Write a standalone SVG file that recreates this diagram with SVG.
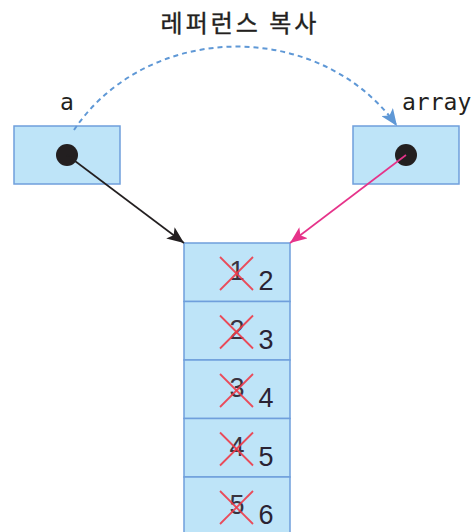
<svg xmlns="http://www.w3.org/2000/svg" width="471" height="532" viewBox="0 0 471 532">
<style>
.box{fill:#bee4f8;stroke:#6f9fdc;stroke-width:1.5}
.dot{fill:#231f20}
.lbl{font-family:"DejaVu Sans Mono","Liberation Mono",monospace;font-size:23px;fill:#231f20}
.num{font-family:"Liberation Sans",Arial,sans-serif;font-size:27px;fill:#2a2233;text-anchor:middle}
.old{font-family:"Liberation Sans",Arial,sans-serif;font-size:27px;fill:#3a3340;text-anchor:middle}
.x{stroke:#ee3a48;stroke-width:1.8;stroke-opacity:0.9}
.title{font-family:"Noto Sans CJK KR","Noto Sans",sans-serif;font-size:24px;fill:#231f20;text-anchor:middle;letter-spacing:3px;stroke:#231f20;stroke-width:0.4}
</style>
<defs>
<marker id="ahBlack" markerUnits="userSpaceOnUse" markerWidth="18" markerHeight="14" refX="17" refY="7" orient="auto">
<path d="M0,0 L17,7 L0,14 L4,7 z" fill="#231f20"/>
</marker>
<marker id="ahPink" markerUnits="userSpaceOnUse" markerWidth="18" markerHeight="14" refX="17" refY="7" orient="auto">
<path d="M0,0 L17,7 L0,14 L4,7 z" fill="#e6338a"/>
</marker>
<marker id="ahBlue" markerUnits="userSpaceOnUse" markerWidth="18" markerHeight="14" refX="17" refY="7" orient="auto">
<path d="M0,0 L17,7 L0,14 L4,7 z" fill="#5f98d6"/>
</marker>
</defs>

<text class="title" x="240" y="32">레퍼런스 복사</text>

<g id="node-a">
<text class="lbl" x="67" y="110" text-anchor="middle">a</text>
<rect class="box" x="14" y="126" width="106" height="58"/>
<circle class="dot" cx="67" cy="155" r="11"/>
</g>

<g id="node-array">
<text class="lbl" x="402" y="110">array</text>
<rect class="box" x="353" y="126" width="106" height="58"/>
<circle class="dot" cx="406" cy="155" r="11"/>
</g>

<g id="node-arr">
<g id="cell0">
<rect class="box" x="184" y="243" width="106" height="58.5"/>
<text class="old" x="237" y="280">1</text>
<line class="x" x1="220" y1="257" x2="253" y2="290"/>
<line class="x" x1="253" y1="257" x2="220" y2="290"/>
<text class="num" x="266" y="290">2</text>
</g>
<g id="cell1">
<rect class="box" x="184" y="301.5" width="106" height="58.5"/>
<text class="old" x="237" y="338.5">2</text>
<line class="x" x1="220" y1="315.5" x2="253" y2="348.5"/>
<line class="x" x1="253" y1="315.5" x2="220" y2="348.5"/>
<text class="num" x="266" y="348.5">3</text>
</g>
<g id="cell2">
<rect class="box" x="184" y="360" width="106" height="58.5"/>
<text class="old" x="237" y="397">3</text>
<line class="x" x1="220" y1="374" x2="253" y2="407"/>
<line class="x" x1="253" y1="374" x2="220" y2="407"/>
<text class="num" x="266" y="407">4</text>
</g>
<g id="cell3">
<rect class="box" x="184" y="418.5" width="106" height="58.5"/>
<text class="old" x="237" y="455.5">4</text>
<line class="x" x1="220" y1="432.5" x2="253" y2="465.5"/>
<line class="x" x1="253" y1="432.5" x2="220" y2="465.5"/>
<text class="num" x="266" y="465.5">5</text>
</g>
<g id="cell4">
<rect class="box" x="184" y="477" width="106" height="62"/>
<text class="old" x="237" y="514">5</text>
<line class="x" x1="220" y1="491" x2="253" y2="524"/>
<line class="x" x1="253" y1="491" x2="220" y2="524"/>
<text class="num" x="266" y="524">6</text>
</g>
</g>

<g id="connectors">
<path d="M74,130 A190,172 0 0 1 397,126" fill="none" stroke="#5f98d6" stroke-width="2" stroke-dasharray="5,4" marker-end="url(#ahBlue)"/>
<line x1="67" y1="155" x2="184" y2="243" stroke="#231f20" stroke-width="1.6" marker-end="url(#ahBlack)"/>
<line x1="406" y1="155" x2="290" y2="243" stroke="#e6338a" stroke-width="1.6" marker-end="url(#ahPink)"/>
</g>
</svg>
